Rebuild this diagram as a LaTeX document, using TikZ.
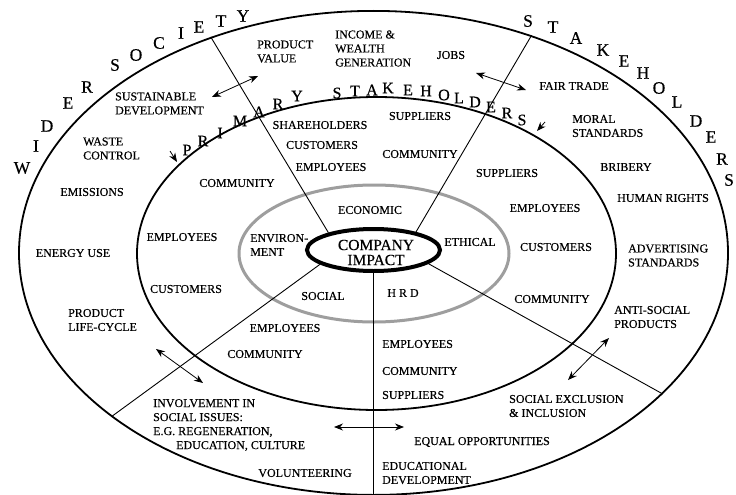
\documentclass[tikz,border=0pt]{standalone}
\usepackage{fontspec}
\setmainfont{Liberation Serif}[FakeBold=0.4]
\usetikzlibrary{shapes.geometric,arrows.meta}
\begin{document}
\begin{tikzpicture}[x=1pt,y=-1pt,
  ring/.style={draw, ellipse, inner sep=0pt},
  lbl/.style={font=\fontsize{12}{14}\selectfont, inner sep=0pt, align=center},
  lbll/.style={lbl, align=left, anchor=west},
  outerletter/.style={font=\fontsize{17.5}{17.5}\selectfont, inner sep=0pt},
  innerletter/.style={font=\fontsize{16}{16}\selectfont, inner sep=0pt},
  spoke/.style={line width=0.9pt},
  link/.style={line width=0.8pt, {Stealth[length=9pt,width=7pt]}-{Stealth[length=9pt,width=7pt]}},
  tip/.style={line width=0.8pt, -{Stealth[length=9pt,width=7pt]}}
]
\useasboundingbox (0,0) rectangle (736,495);
\fill[white] (0,0) rectangle (736,495);

% the four rings
\node[ring, minimum width=709pt, minimum height=484pt, line width=1.8pt] (society) at (373.5,252.9) {};
\node[ring, minimum width=479pt, minimum height=313pt, line width=1.8pt] (primary) at (376.5,253.5) {};
\node[ring, minimum width=270pt, minimum height=137pt, line width=3pt, draw=black!38] (aspects) at (374,253.5) {};
\node[ring, minimum width=133pt, minimum height=42pt, line width=4pt] (impact) at (373.5,250) {};
\node[font=\fontsize{15.5}{15}\selectfont, align=center, inner sep=0pt] (impactlabel) at (376,252.5) {COMPANY\\IMPACT};

% spokes from the company impact to the outer ring
\draw[spoke] (impact.159) -- (society.127);
\draw[spoke] (impact.23) -- (society.54);
\draw[spoke] (impact.195) -- (society.212);
\draw[spoke] (impact.270) -- (society.270);
\draw[spoke] (impact.346) -- (society.334);

% two-way links across the spokes
\coordinate (sdA) at (212,97);  \coordinate (sdB) at (258,76);
\coordinate (ftA) at (476,73);  \coordinate (ftB) at (526,90);
\coordinate (plA) at (156,349); \coordinate (plB) at (203,383);
\coordinate (asA) at (609,338); \coordinate (asB) at (568,380);
\coordinate (eoA) at (334,427); \coordinate (eoB) at (404,427);
\draw[link] (sdA) -- (sdB);
\draw[link] (ftA) -- (ftB);
\draw[link] (plA) -- (plB);
\draw[link] (asA) -- (asB);
\draw[link] (eoA) -- (eoB);

% arrowheads pointing onto the primary ring
\coordinate (wcA) at (170,151); \coordinate (wcB) at (177,162);
\coordinate (msA) at (545,122); \coordinate (msB) at (537,131);
\draw[tip] (wcA) -- (wcB);
\draw[tip] (msA) -- (msB);

% ring titles, letter by letter
\foreach \c/\x/\y [count=\i] in {W/22/168, I/36/146, D/47/126, E/68/103, R/87/87, S/115/65,
    O/136/55, C/159/43, I/181/33, E/199/27, T/221/21, Y/243/16}
  \node[outerletter] (wider\i) at (\x,\y) {\c};
\foreach \c/\x/\y [count=\i] in {S/528/21, T/553/27, A/576/38, K/603/50, E/624/61, H/643/73,
    O/659/88, L/677/102, D/696/121, E/711/137, R/722/159, S/729/180}
  \node[outerletter] (stake\i) at (\x,\y) {\c};
\foreach \c/\x/\y [count=\i] in {P/187/150, R/203/141, I/220/133, M/240/121, A/259/112, R/278/104,
    Y/297/96, S/337/93, T/355/91, A/372/90, K/388/88, E/408/90, H/426/91, O/444/95, L/459/98,
    D/475/102, E/491/107, R/507/113, S/522/120}
  \node[innerletter] (prim\i) at (\x,\y) {\c};

% wider society band
\node[lbll] (prodval) at (257,51.5) {PRODUCT\\VALUE};
\node[lbll] (income) at (335,48.5) {INCOME \&\\WEALTH\\GENERATION};
\node[lbl] (jobs) at (451,55) {JOBS};
\node[lbll] (sustain) at (115,103.5) {SUSTAINABLE\\DEVELOPMENT};
\node[lbl] (fair) at (574,86) {FAIR TRADE};
\node[lbll] (waste) at (83,148.5) {WASTE\\CONTROL};
\node[lbll] (moral) at (572,126) {MORAL\\STANDARDS};
\node[lbl] (emiss) at (92,192) {EMISSIONS};
\node[lbl] (bribe) at (626,167) {BRIBERY};
\node[lbl] (human) at (663,198) {HUMAN RIGHTS};
\node[lbl] (energy) at (73,253) {ENERGY USE};
\node[lbll] (advert) at (628,255.5) {ADVERTISING\\STANDARDS};
\node[lbll] (life) at (68,320) {PRODUCT\\LIFE-CYCLE};
\node[lbll] (anti) at (614,317) {ANTI-SOCIAL\\PRODUCTS};
\node[lbll] (involve) at (153,425) {INVOLVEMENT IN\\SOCIAL ISSUES:\\E.G. REGENERATION,\\\hspace*{23pt}EDUCATION, CULTURE};
\node[lbll] (exclusion) at (509,406) {SOCIAL EXCLUSION\\\& INCLUSION};
\node[lbl] (equal) at (482,442) {EQUAL OPPORTUNITIES};
\node[lbl] (volunt) at (305,473) {VOLUNTEERING};
\node[lbll] (educ) at (382,473) {EDUCATIONAL\\DEVELOPMENT};

% primary stakeholders band
\node[lbl] (share) at (320,125) {SHAREHOLDERS};
\node[lbl] (cust1) at (322,145) {CUSTOMERS};
\node[lbl] (empl1) at (331,167) {EMPLOYEES};
\node[lbl] (supp1) at (420,116) {SUPPLIERS};
\node[lbl] (comm1) at (420,154) {COMMUNITY};
\node[lbl] (comm2) at (237,183) {COMMUNITY};
\node[lbl] (supp2) at (507,173) {SUPPLIERS};
\node[lbl] (empl2) at (545,208) {EMPLOYEES};
\node[lbl] (cust2) at (556,247) {CUSTOMERS};
\node[lbl] (empl3) at (182,237) {EMPLOYEES};
\node[lbl] (cust3) at (186,289) {CUSTOMERS};
\node[lbl] (comm3) at (552,299) {COMMUNITY};
\node[lbl] (empl4) at (285,328) {EMPLOYEES};
\node[lbl] (comm4) at (265,354) {COMMUNITY};
\node[lbll] (empl5) at (382,344) {EMPLOYEES};
\node[lbll] (comm5) at (382,371) {COMMUNITY};
\node[lbll] (supp5) at (382,395) {SUPPLIERS};

% impact areas
\node[lbl] (econ) at (370,210) {ECONOMIC};
\node[lbll] (environ) at (250,245) {ENVIRON-\\MENT};
\node[lbl] (ethic) at (470,242) {ETHICAL};
\node[lbl] (social) at (323,296) {SOCIAL};
\node[lbl] (hrd) at (403,293) {H R D};
\end{tikzpicture}
\end{document}
